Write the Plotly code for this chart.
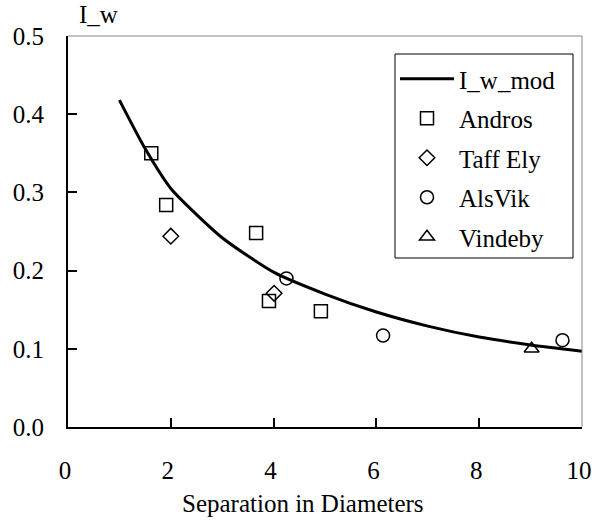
import plotly.graph_objects as go

# model curve
mod_x = [1, 1.5, 2, 3, 4, 5, 6, 7, 8, 9, 10]
mod_y = [0.418, 0.356, 0.305, 0.242, 0.198, 0.170, 0.147, 0.129, 0.115, 0.105, 0.097]

andros_x = [1.62, 1.91, 3.66, 3.91, 4.92]
andros_y = [0.350, 0.284, 0.248, 0.161, 0.148]

taff_x = [2.00, 4.01]
taff_y = [0.244, 0.171]

alsvik_x = [4.25, 6.13, 9.62]
alsvik_y = [0.190, 0.117, 0.111]

vindeby_x = [9.02]
vindeby_y = [0.100]

x_ticks = [0, 2, 4, 6, 8, 10]
y_ticks = [0.0, 0.1, 0.2, 0.3, 0.4, 0.5]

FONT = '"Liberation Serif", "Times New Roman", serif'
FS = 25

L, R, T, B = 68, 10, 36, 95
PW, PH = 592 - L - R, 522 - T - B

fig = go.Figure()
fig.add_trace(go.Scatter(x=mod_x, y=mod_y, mode="lines", name="I_w_mod",
                         line=dict(color="black", width=3, shape="spline", smoothing=0.6),
                         legendgroup="a"))
mk = dict(color="black", line=dict(color="black", width=1.5))
fig.add_trace(go.Scatter(x=andros_x, y=andros_y, mode="markers", name="Andros",
                         marker=dict(symbol="square-open", size=13, **mk), legendgroup="b"))
fig.add_trace(go.Scatter(x=taff_x, y=taff_y, mode="markers", name="Taff Ely",
                         marker=dict(symbol="diamond-open", size=12, **mk), legendgroup="c"))
fig.add_trace(go.Scatter(x=alsvik_x, y=alsvik_y, mode="markers", name="AlsVik",
                         marker=dict(symbol="circle-open", size=13, **mk), legendgroup="d"))
fig.add_trace(go.Scatter(x=vindeby_x, y=vindeby_y, mode="markers", name="Vindeby",
                         marker=dict(symbol="triangle-up-open", size=13, **mk), legendgroup="e"))

# legend frame in pixel terms -> paper coords
bx0, bx1, by0, by1 = 395, 573, 54, 258

fig.update_layout(
    width=592, height=522,
    margin=dict(l=L, r=R, t=T, b=B, autoexpand=False),
    paper_bgcolor="white", plot_bgcolor="white",
    font=dict(family=FONT, size=FS, color="black"),
    showlegend=True,
    legend=dict(x=(bx0 - L) / PW, y=1 - (by0 + 2 - T) / PH, xanchor="left", yanchor="top",
                borderwidth=0, bgcolor="rgba(0,0,0,0)",
                font=dict(family=FONT, size=FS), itemwidth=54,
                tracegroupgap=4),
    xaxis=dict(range=[0, 10], tickvals=x_ticks, ticktext=[str(v) for v in x_ticks],
               ticks="inside", ticklen=9, tickwidth=2, tickcolor="black",
               showline=True, linecolor="black", linewidth=2, showgrid=False,
               zeroline=False, ticklabelstandoff=20, ticklabeloverflow="allow",
               ticklabelshift=-3, automargin=False, fixedrange=True),
    yaxis=dict(range=[0, 0.5], tickvals=y_ticks, ticktext=[f"{v:.1f}" for v in y_ticks],
               ticks="inside", ticklen=9, tickwidth=2, tickcolor="black",
               showline=True, linecolor="black", linewidth=2, showgrid=False,
               zeroline=False, ticklabelstandoff=17, ticklabeloverflow="allow",
               automargin=False, fixedrange=True),
    shapes=[
        dict(type="line", xref="paper", yref="paper", x0=0, x1=1, y0=1, y1=1,
             line=dict(color="#888888", width=1)),
        dict(type="line", xref="paper", yref="paper", x0=1, x1=1, y0=0, y1=1,
             line=dict(color="#888888", width=1)),
        dict(type="rect", xref="paper", yref="paper",
             x0=(bx0 - L) / PW, x1=(bx1 - L) / PW,
             y0=1 - (by1 - T) / PH, y1=1 - (by0 - T) / PH,
             line=dict(color="black", width=1), fillcolor="white", layer="below"),
    ],
    annotations=[
        dict(text="I_w", xref="paper", yref="paper", x=(77 - L) / PW, y=1.0, yshift=22,
             xanchor="left", yanchor="middle", showarrow=False,
             font=dict(family=FONT, size=FS)),
        dict(text="Separation in Diameters", xref="paper", yref="paper",
             x=(302.5 - L) / PW, y=0, yshift=-(503 - (522 - B)), xanchor="center",
             yanchor="middle", showarrow=False, font=dict(family=FONT, size=FS)),
    ],
)

fig.write_html("out.html")
